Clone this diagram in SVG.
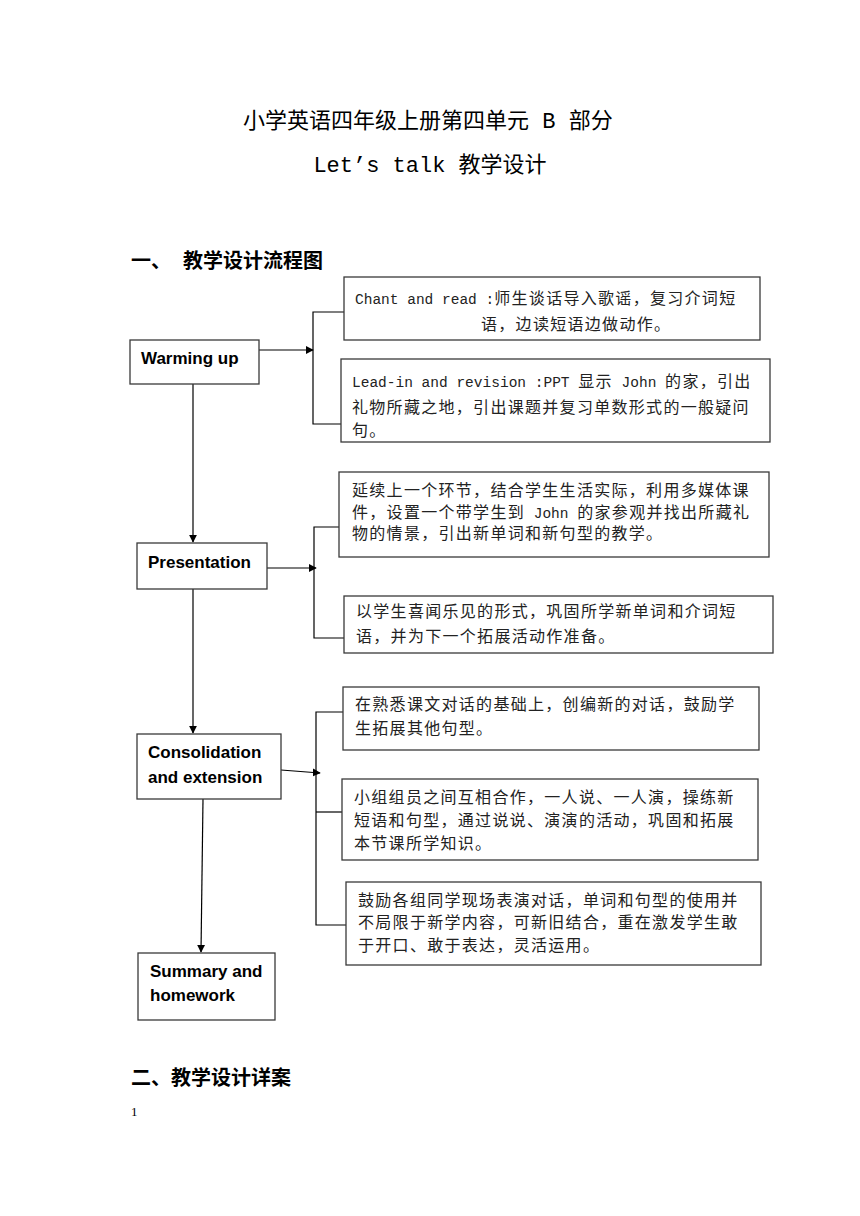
<svg xmlns="http://www.w3.org/2000/svg" width="860" height="1216" viewBox="0 0 860 1216">
<defs>
<marker id="ah" viewBox="0 0 10 10" refX="9" refY="5" markerWidth="8" markerHeight="8" markerUnits="userSpaceOnUse" orient="auto">
<path d="M0,0 L10,5 L0,10 z" fill="#000"/>
</marker>
<style>
.box{fill:#fff;stroke:#3a3a3a;stroke-width:1.3}
.cj{font-family:"Liberation Serif","Noto Sans CJK SC",serif;font-size:16px;letter-spacing:1.3px;fill:#222}
.mono{font-family:"Liberation Mono","Noto Sans CJK SC",monospace;font-size:14.5px;letter-spacing:0}
.node{font-family:"Liberation Sans",Arial,sans-serif;font-weight:bold;font-size:17px;fill:#000}
.ln{stroke:#000;stroke-width:1.2;fill:none}
.title{font-family:"Liberation Serif","Noto Sans CJK SC",serif;font-size:22px;fill:#000}
.tmono{font-family:"Liberation Mono","Noto Sans CJK SC",monospace;font-size:22px}
.head{font-family:"Noto Sans CJK SC",sans-serif;font-weight:bold;font-size:20px;fill:#000}
</style>
</defs>
<rect width="860" height="1216" fill="#fff"/>

<g id="titles">
<text class="title" x="243" y="128">小学英语四年级上册第四单元<tspan class="tmono"> B </tspan>部分</text>
<text class="title" x="430" y="172" text-anchor="middle"><tspan class="tmono">Let’s talk </tspan>教学设计</text>
<text class="head" x="131" y="268">一、</text>
<text class="head" x="183" y="268">教学设计流程图</text>
<text class="head" x="131" y="1085">二、教学设计详案</text>
<text x="131" y="1116" font-family="Liberation Serif,serif" font-size="13">1</text>
</g>

<g id="connectors">
<line class="ln" x1="259" y1="350" x2="313" y2="350" marker-end="url(#ah)"/>
<polyline class="ln" points="344,312 313,312 313,424 341,424"/>
<line class="ln" x1="193" y1="384" x2="193" y2="542" marker-end="url(#ah)"/>
<line class="ln" x1="267" y1="568" x2="316" y2="568" marker-end="url(#ah)"/>
<polyline class="ln" points="339,527 314,527 314,638 344,638"/>
<line class="ln" x1="193" y1="589" x2="193" y2="733" marker-end="url(#ah)"/>
<line class="ln" x1="281" y1="770" x2="320" y2="773" marker-end="url(#ah)"/>
<polyline class="ln" points="343,712 316,712 316,925 346,925"/>
<line class="ln" x1="316" y1="812" x2="342" y2="812"/>
<line class="ln" x1="203" y1="799" x2="201" y2="952" marker-end="url(#ah)"/>
</g>

<g id="warming">
<rect class="box" x="130" y="340" width="129" height="44"/>
<text class="node" x="141" y="364">Warming up</text>
</g>
<g id="presentation">
<rect class="box" x="137" y="543" width="130" height="46"/>
<text class="node" x="148" y="568">Presentation</text>
</g>
<g id="consolidation">
<rect class="box" x="137" y="734" width="144" height="65"/>
<text class="node" x="148" y="758">Consolidation</text>
<text class="node" x="148" y="783">and extension</text>
</g>
<g id="summary">
<rect class="box" x="138" y="953" width="137" height="67"/>
<text class="node" x="150" y="977">Summary and</text>
<text class="node" x="150" y="1001">homework</text>
</g>

<g id="boxA">
<rect class="box" x="344" y="277" width="416" height="63"/>
<text class="cj" x="355" y="304"><tspan class="mono">Chant and read :</tspan>师生谈话导入歌谣，复习介词短</text>
<text class="cj" x="481" y="330">语，边读短语边做动作。</text>
</g>
<g id="boxB">
<rect class="box" x="341" y="359" width="429" height="83"/>
<text class="cj" x="352" y="387"><tspan class="mono">Lead-in and revision  :PPT </tspan>显示<tspan class="mono"> John </tspan>的家，引出</text>
<text class="cj" x="352" y="413">礼物所藏之地，引出课题并复习单数形式的一般疑问</text>
<text class="cj" x="352" y="436">句。</text>
</g>
<g id="boxC">
<rect class="box" x="339" y="472" width="430" height="85"/>
<text class="cj" x="352" y="496">延续上一个环节，结合学生生活实际，利用多媒体课</text>
<text class="cj" x="352" y="518">件，设置一个带学生到<tspan class="mono"> John </tspan>的家参观并找出所藏礼</text>
<text class="cj" x="352" y="539">物的情景，引出新单词和新句型的教学。</text>
</g>
<g id="boxD">
<rect class="box" x="344" y="596" width="429" height="57"/>
<text class="cj" x="356" y="617">以学生喜闻乐见的形式，巩固所学新单词和介词短</text>
<text class="cj" x="356" y="642">语，并为下一个拓展活动作准备。</text>
</g>
<g id="boxE">
<rect class="box" x="343" y="687" width="416" height="63"/>
<text class="cj" x="355" y="710">在熟悉课文对话的基础上，创编新的对话，鼓励学</text>
<text class="cj" x="355" y="734">生拓展其他句型。</text>
</g>
<g id="boxF">
<rect class="box" x="342" y="779" width="416" height="81"/>
<text class="cj" x="354" y="803">小组组员之间互相合作，一人说、一人演，操练新</text>
<text class="cj" x="354" y="826">短语和句型，通过说说、演演的活动，巩固和拓展</text>
<text class="cj" x="354" y="849">本节课所学知识。</text>
</g>
<g id="boxG">
<rect class="box" x="346" y="882" width="415" height="83"/>
<text class="cj" x="358" y="906">鼓励各组同学现场表演对话，单词和句型的使用并</text>
<text class="cj" x="358" y="928">不局限于新学内容，可新旧结合，重在激发学生敢</text>
<text class="cj" x="358" y="951">于开口、敢于表达，灵活运用。</text>
</g>
</svg>
